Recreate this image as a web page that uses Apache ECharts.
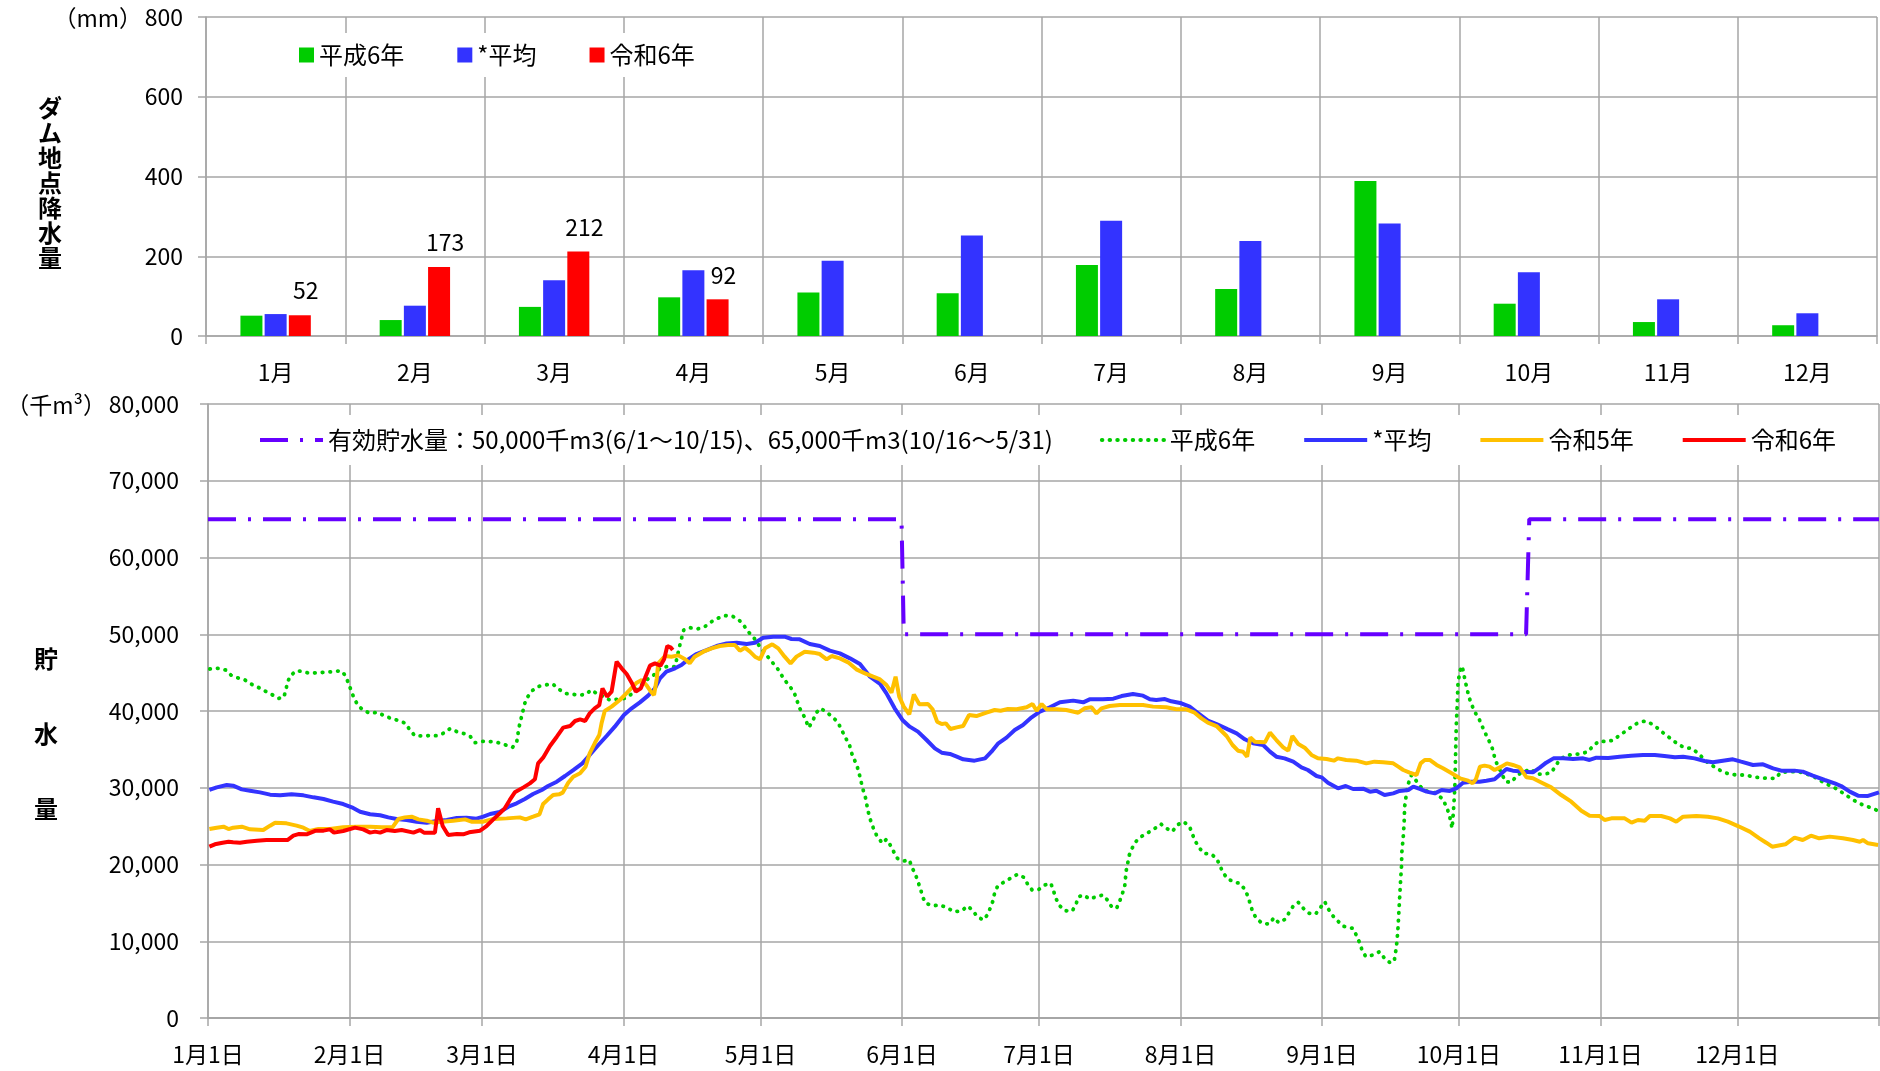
<!DOCTYPE html>
<html>
<head>
<meta charset="utf-8">
<script src="https://cdn.jsdelivr.net/npm/echarts@6/dist/echarts.min.js"></script>
<style>
  html, body { margin: 0; padding: 0; background: #fff; }
  #chart { width: 1880px; height: 1071px; }
</style>
</head>
<body>
<div id="chart"></div>
<script>
// ---- 上段：ダム地点降水量 (mm) ----
const months = ['1月','2月','3月','4月','5月','6月','7月','8月','9月','10月','11月','12月'];
const rainH6  = [51, 40, 73, 97, 109, 107, 178, 118, 389, 81, 35, 27];
const rainAvg = [55, 76, 140, 165, 189, 252, 289, 238, 282, 160, 92, 57];
const rainR6  = [52, 173, 212, 92, null, null, null, null, null, null, null, null];

// ---- 下段：貯水量 (千m3) [1月1日からの日数, 値] ----
const tickDates = ['2024-01-01','2024-02-01','2024-03-01','2024-04-01','2024-05-01','2024-06-01',
  '2024-07-01','2024-08-01','2024-09-01','2024-10-01','2024-11-01','2024-12-01','2025-01-01'];

const capacityLine = [[0,65000],[151.9,65000],[152.4,50000],[288.7,50000],[289.4,65000],[366,65000]];

const storageH6 = [[0.4,45470],[2.3,45560],[3.9,45340],[5,44690],[6.4,44340],[8.1,44040],[9.4,43520],[11,43080],[12.5,42600],[13.9,42170],[15.5,41650],[16.6,41780],[17.1,42820],[17.4,43780],[18.2,44690],[19.4,45250],[20.9,45120],[22.3,44910],[24.2,44990],[25.8,45040],[27.4,45120],[29.1,45250],[30,44690],[30.8,43600],[31.3,42740],[32,41650],[32.8,40780],[33.9,40130],[35.5,39690],[37.1,39830],[38.6,39390],[40.1,39040],[41.8,38740],[43.3,38390],[44.2,37520],[45.3,36790],[46.9,36740],[48.6,36790],[50.3,36790],[51.9,37180],[53,37700],[54.5,37310],[56.1,37050],[57.5,36650],[58.5,35870],[60.1,36050],[62,36000],[63.6,35870],[65.2,35570],[66.7,35270],[67.6,35870],[68.1,37830],[68.5,38830],[68.9,39780],[69.3,40870],[69.9,41740],[70.9,42600],[72.2,43170],
  [73.8,43390],[75.5,43520],[76.9,42820],[78.2,42300],[79.8,42170],[81.5,42080],[82.8,42170],[83.9,42740],[85.1,42300],[86.6,41870],[88,41430],[89.6,41520],[91.3,41650],[92.8,42210],[94.6,43170],[96,44040],[97.5,44600],[99,45560],[100.4,45780],[102.3,45780],[102.8,47160],[103.4,48730],[104.2,50550],[105.5,50860],[107.2,50690],[108.8,50990],[110.3,51640],[111.6,52070],[113.2,52420],[114.8,52380],[116.3,51860],[117.4,51120],[118.3,50340],[119.5,49600],[121.1,48160],[122.6,47080],[123.6,46340],[124.7,45560],[125.6,44690],[126.6,43820],[127.6,43080],[128.5,42210],[129.6,40350],[130.6,39260],[131.6,37830],[132.6,38910],[133.3,39830],[134.2,40350],[135.5,39830],[136.9,39170],[138,38480],[138.8,37520],[139.7,36440],[140.5,35570],[141,34480],[141.6,33620],[142.2,32750],[142.7,31660],[143.1,30660],[143.5,29710],[144,28710],[144.6,26880],[145.1,25800],[145.7,24800],[146.4,23840],[147.7,22760],[148.6,23280],[149.3,22670],[150.1,21760],[151,20800],
  [152.4,20460],[153.6,20590],[154.2,19630],[155,18630],[155.5,17760],[156.1,16760],[156.5,15810],[157.2,14940],[158.8,14630],[160.4,14720],[162.1,14290],[163.4,13850],[165,13940],[166.4,14590],[167.4,14070],[168.5,13200],[169.8,12770],[170.7,13420],[171.4,14420],[172,15370],[172.3,16330],[173,17240],[174.5,17760],[176,18280],[177.3,18720],[178.7,18330],[179.5,17460],[180.5,16680],[182,16760],[183.3,17330],[184.6,17550],[185.1,16760],[185.7,15590],[186.6,14590],[187.7,13980],[189.3,13940],[190.1,14810],[190.7,15810],[191.8,16030],[193.1,15500],[194.6,15810],[196,16030],[197,15370],[197.9,14510],[199,14290],[199.7,15240],[200.3,16240],[200.8,17240],[201.1,19150],[201.8,21240],[202.4,22110],[203.2,22970],[204.4,23630],[205.9,24150],[207.4,24710],[208.7,25280],[209.9,24710],[211.2,24280],[212.3,25150],[213.7,25580],[215,24930],[216.1,23190],[217.1,22190],[218.1,21450],[219.7,21370],[220.9,20800],[221.6,19930],[222.3,18940],[223.4,18110],[224.9,17680],[226,17550],
  [227.1,16760],[227.8,15810],[228.8,13850],[229.6,12990],[230.9,12330],[232.4,12250],[233.5,13070],[234.5,12420],[235.9,12860],[236.7,13640],[237.7,14590],[238.8,15070],[239.9,14290],[241.2,13640],[242.6,13550],[243.7,14420],[244.6,15160],[245.3,14290],[246.2,13420],[247.4,12680],[248.5,11990],[249.7,11810],[250.8,11680],[251.5,10810],[252.3,9730],[252.8,8770],[253.6,7990],[255.2,8210],[256.6,8640],[257.6,7860],[258.8,7250],[259.8,7340],[260.3,9290],[260.6,11250],[260.8,13420],[261,15590],[261.2,17760],[261.4,19720],[261.5,21670],[261.8,23630],[262,25580],[262.1,27530],[262.5,29270],[262.8,30360],[263.6,31660],[264.5,31010],[265.6,30140],[267.2,29490],[268.7,29360],[270.3,28620],[271.2,27620],[271.9,26450],[272.5,24710],[272.7,26230],[272.9,27970],[273.1,30140],[273.2,32750],[273.3,35350],[273.4,37960],[273.6,40570],[273.8,43820],[274.3,45340],[274.7,45860],[275.4,43820],[276.2,41780],[277.3,40040],[278.4,38960],[279.6,37310],[280.5,36220],[281.3,35130],[282,33530],[282.9,32400],[284.2,30790],[285.5,30710],[286.6,31530],[288,32100],[289.9,32400],[291,31750],[292.8,31790],
  [294.2,31970],[295.1,32750],[296,33620],[297.4,34180],[299,34350],[300.6,34400],[302.3,34700],[303.4,35480],[304.7,36090],[306.3,36000],[307.9,36220],[309.2,36870],[310.7,37440],[312.1,38090],[313.4,38520],[314.9,38700],[316.7,38170],[317.8,37610],[319.3,36870],[320.6,36310],[322,35660],[323.4,35220],[325,35130],[326.4,34480],[327.5,33830],[328.7,33180],[330.2,32620],[331.7,32100],[333.3,31750],[335,31660],[336.7,31660],[338.3,31440],[339.9,31310],[341.7,31230],[343.4,31230],[344.4,31970],[346,32100],[348,32100],[349.3,31970],[350.8,31660],[352.4,31230],[353.9,30660],[355.5,30230],[356.9,29790],[358.2,29270],[359.6,28710],[361,28190],[362.5,27750],[364.2,27400],[365.8,27010]];

const storageAvg = [[0.3,29710],[1.9,30050],[4.1,30360],[5.5,30270],[7.4,29790],[9.2,29620],[11.4,29400],[13.6,29100],[15.8,29010],[18.3,29140],[20.9,29010],[23.1,28750],[25.3,28530],[27.4,28190],[29.6,27880],[31.5,27450],[33.3,26880],[35.5,26540],[37.7,26410],[39.5,26140],[41.3,25930],[43.5,25800],[45.7,25580],[47.9,25450],[50.1,25670],[52.3,25800],[54.5,26060],[56.6,26100],[58.8,25970],[60.3,26230],[61.8,26580],[63.9,26840],[65.8,27530],[67.6,27970],[69.4,28530],[71.2,29180],[73.1,29710],
  [74.5,30230],[76.4,30790],[78.2,31530],[80,32310],[82,33180],[83.6,34270],[85.5,35570],[87.3,36740],[89.1,37960],[91.1,39480],[92.8,40350],[94.6,41130],[96.4,42000],[97.9,42950],[99,44260],[100.4,45120],[102.3,45560],[103.7,45990],[105.2,46730],[107,47420],[109.2,47940],[111.4,48470],[113.6,48810],[115.8,48900],[118,48730],[119.8,48900],[121.6,49550],[123.8,49680],[126.3,49680],[127.8,49380],[129.6,49340],[131.8,48730],[134,48470],[136.2,47860],[138.4,47510],[140.6,46860],[142.8,46120],[145,44470],[147.2,43530],
  [148.6,42300],[150.4,40350],[152.1,38830],[153.7,37960],[155.5,37310],[157.4,36220],[159.2,35130],[160.7,34570],[162.5,34400],[164,34050],[165.4,33700],[167.9,33530],[170.2,33830],[171.6,34700],[173.1,35790],[174.9,36530],[176.7,37520],[178.5,38170],[180.4,39170],[182.2,39910],[184.4,40480],[186.6,41130],[189.5,41350],[191.7,41130],[193.1,41520],[196,41520],[198.3,41610],[200.1,41950],[202.6,42210],[204.8,42000],[206.3,41520],[207.7,41430],[209.6,41560],[211,41260],[213.2,41000],[215,40570],[216.9,39690],[219,38740],[220.9,38300],
  [223.4,37610],[225.3,37090],[227.1,36310],[228.9,35790],[231.1,35570],[232.6,34700],[234,34050],[235.8,33830],[237.7,33400],[239.5,32660],[240.9,32310],[242.8,31530],[243.9,31360],[245.3,30660],[247.5,29920],[249.2,30230],[250.8,29840],[253,29880],[254.5,29490],[255.9,29620],[257.7,29050],[259.6,29270],[261,29580],[262.9,29710],[264,30140],[265.4,29840],[266.9,29490],[268.7,29270],[270.2,29710],[272,29580],[273.4,29920],[274.9,30660],[276.7,30790],[278.5,30790],[280,30920],[281.8,31100],[282.9,31660],[284.4,32440],[285.8,32230],[288,32100],[290.2,32010],
  [291.7,32620],[293.1,33270],[294.7,33830],[296.8,33830],[299,33740],[301.2,33830],[302.6,33620],[304.1,33920],[306.7,33880],[309.2,34050],[311.7,34180],[314.3,34270],[316.9,34270],[319,34140],[321.3,33960],[323.1,34050],[325.6,33830],[327.8,33490],[329.6,33310],[331.8,33530],[334,33700],[335.8,33400],[338.4,32970],[340.6,33050],[342.8,32530],[344.6,32230],[347.5,32230],[349.3,32100],[351.5,31570],[354.1,31010],[356.3,30570],[357.7,30230],[359.6,29490],[361.4,28970],[363.6,28930],[366,29400]];

const storageR5 = [[0.3,24620],[1.9,24800],[3.4,24930],[4.5,24620],[5.5,24800],[7.4,24930],[9.2,24580],[12.1,24490],[13.6,25060],[14.7,25450],[17.2,25360],[19.4,25060],[20.9,24800],[22.3,24360],[24.2,24620],[26.7,24620],[29.6,24840],[32.6,24930],[35.5,24930],[38,24840],[40.4,24840],[41.7,25930],[43.1,26140],[44.6,26230],[46.1,25880],[47.9,25710],[49.3,25450],[51.2,25580],[53.7,25710],[56.3,25880],[57.7,25580],[60.3,25580],[62.5,25930],[65.4,26010],[68.3,26140],[69.6,25880],[71.2,26230],[72.6,26540],[73.4,27880],[74.5,28490],[75.6,29050],[76.9,29140],
  [77.7,29360],[78.9,30660],[80,31440],[81.5,31880],[82.7,32750],[83.6,34480],[84.7,35790],[85.7,36870],[86.2,38390],[86.9,40000],[88.4,40570],[90.2,41430],[91.8,42390],[93.9,43690],[95,44040],[96,43390],[97,42520],[97.7,42080],[98.3,44260],[98.6,46210],[100.1,47160],[101.5,47080],[103,47250],[104.5,46730],[105.5,46210],[106.6,47080],[108.5,47730],[110.3,48160],[112.1,48470],[113.9,48600],[115.4,48600],[116.5,47860],[117.6,48250],[118.7,47730],[119.8,47080],[120.9,46730],[122,48160],[123.6,48690],[124.9,48160],[126.3,47080],[127.6,46210],[128.9,47080],[130.7,47730],[132.6,47600],[134,47420],[135.5,46730],[136.6,47160],[138.4,46860],[140.2,46340],[142,45430],[143.9,44910],[145.7,44470],[147.2,44120],[148.6,43390],[149.7,42390],[150.6,44470],
  [151.4,41870],[152.4,40570],[153.6,39560],[154.6,42170],[155.8,40870],[157.7,40910],[158.7,40220],[159.7,38610],[160.7,38300],[161.6,38390],[162.6,37650],[164,37870],[165.4,38040],[166.7,39480],[168.3,39340],[170.5,39780],[172.3,40130],[173.6,40040],[175.2,40260],[177.1,40220],[179.3,40480],[180.6,40910],[181.5,40040],[182.6,40910],[183.7,40220],[185.9,40220],[188,40130],[190.6,39780],[192,40350],[193.5,40480],[194.6,39690],[195.7,40350],[197.5,40650],[199.7,40780],[202.3,40780],[204.8,40780],[207,40570],[209.9,40480],[212.1,40220],[214.3,40220],[216.1,39780],[217.6,39040],[219,38480],[220.9,38040],
  [223.1,36740],[224.4,35570],[225.6,34830],[226.7,34700],[227.6,34050],[228.3,36570],[229.3,36000],[231.5,35920],[232.6,37180],[234,36220],[235.5,35270],[236.6,34830],[237.5,36740],[238.8,35700],[240.2,35220],[241.7,34270],[243.1,33830],[245,33740],[246.6,33530],[247.5,33830],[249.3,33620],[251.5,33530],[253.7,33180],[255.5,33400],[257.4,33310],[259.6,33180],[260.7,32750],[261.8,32310],[263.2,31970],[264.7,31660],[265.6,33180],[266.5,33620],[267.6,33620],[269.1,32970],[270.5,32530],[272.4,31880],[274.2,31230],[276,30920],[277,30570],[277.7,31100],[278.6,32750],[279.6,32880],[280.7,32750],[281.8,32310],[283.3,32750],[284.5,33180],[285.8,32970],[287.3,32660],[288.8,31360],[290.2,31230],
  [291.7,30790],[294.2,30050],[296.4,29050],[298.6,28190],[300.8,27010],[302.6,26360],[304.8,26320],[305.9,25800],[307.4,26010],[310.3,26010],[311.8,25450],[313.2,25800],[314.7,25710],[315.8,26320],[318.3,26320],[320.2,26010],[321.6,25580],[323.1,26230],[326,26320],[328.5,26230],[330.7,26010],[332.9,25580],[335.1,25010],[337.7,24280],[339.8,23410],[341.3,22840],[342.6,22320],[345.5,22630],[347.5,23500],[349.3,23190],[351.1,23760],[352.9,23410],[355.2,23630],[358.1,23410],[360.3,23190],[361.8,22970],[362.5,23190],[363.6,22760],[365.8,22540]];

const storageR6 = [[0.3,22320],[1.5,22630],[3.2,22840],[4.5,22970],[5.5,22890],[7,22840],[8.5,22970],[10.7,23100],[12.8,23190],[15,23190],[17.4,23190],[18.7,23760],[19.8,23970],[21.6,23930],[23.6,24410],[25.3,24410],[26.7,24580],[27.6,24150],[29.6,24360],[32.2,24800],[34,24580],[35.5,24150],[36.6,24280],[37.7,24150],[39.1,24490],[40.9,24360],[42.4,24490],[45,24150],[46.4,24490],[47.3,24150],[49.7,24150],[50.4,27320],[51.4,25010],[52.6,23840],[54.5,23970],[55.9,23930],[57.2,24190],[59.6,24410],[61,25010],[62.5,25880],[63.9,26670],[65,27320],[66.1,28410],[67.2,29400],[69.1,30050],[70.5,30570],[71.6,31100],[72.3,33180],[73.4,33920],
  [74.9,35440],[76.4,36650],[77.8,37830],[79.3,38040],[80.4,38700],[81.5,38910],[82.6,38700],[83.6,39690],[84.7,40350],[85.7,40780],[86.4,42950],[87.4,41870],[88.4,42520],[89.5,46430],[90.6,45560],[91.7,44820],[92.8,43690],[93.7,42520],[94.8,42950],[95.7,44260],[96.8,45910],[97.9,46210],[99.1,45910],[99.9,46730],[100.6,48470],[101.4,48250],[101.8,47940]];

const FONT = "'Noto Sans CJK JP', 'Noto Sans', sans-serif";
const GRID_COLOR = '#a6a6a6';
const DAY = 86400000;
const parseDate = s => { const a = s.split('-').map(Number); return Date.UTC(a[0], a[1] - 1, a[2]); };
const BASE = parseDate(tickDates[0]);
// 1月1日からの日数に変換した目盛り位置
const tickDays = tickDates.map(s => Math.round((parseDate(s) - BASE) / DAY));
const dayLabel = v => { const d = new Date(BASE + Math.round(v) * DAY); return (d.getUTCMonth() + 1) + '月' + d.getUTCDate() + '日'; };

const capName = '有効貯水量：50,000千m3(6/1～10/15)、65,000千m3(10/16～5/31)';

// 折れ線（凡例のマーカーは出さない）
function storageLine(name, data, color, lineStyle) {
  return {
    name: name, type: 'line', xAxisIndex: 1, yAxisIndex: 1, symbol: 'none',
    data: data,
    itemStyle: { color: color, opacity: 0 },
    lineStyle: Object.assign({ color: color, width: 4 }, lineStyle || {})
  };
}

const chart = echarts.init(document.getElementById('chart'));
chart.setOption({
  animation: false,
  textStyle: { fontFamily: FONT, color: '#000' },
  grid: [
    { left: 206, top: 17, width: 1671, height: 319 },
    { left: 208, top: 404, width: 1671, height: 614 }
  ],
  legend: [
    {
      data: ['平成6年', '*平均', '令和6年'],
      left: 285, top: 33, padding: [10, 14],
      backgroundColor: '#fff',
      icon: 'rect', itemWidth: 15, itemHeight: 15, itemGap: 53,
      textStyle: { fontSize: 24, color: '#000', fontFamily: FONT }
    },
    {
      data: [capName, '平成6年 ', '*平均 ', '令和5年', '令和6年 '],
      left: 240, top: 415, padding: [13, 18],
      backgroundColor: '#fff',
      itemWidth: 63, itemHeight: 14, itemGap: 47,
      itemStyle: { opacity: 0 },
      lineStyle: { width: 4 },
      formatter: n => n.trim(),
      textStyle: { fontSize: 24, color: '#000', fontFamily: FONT }
    }
  ],
  xAxis: [
    {
      type: 'category', gridIndex: 0, data: months,
      axisLine: { show: true, lineStyle: { color: GRID_COLOR, width: 1.5 } },
      axisTick: { show: true, length: 8, interval: 0, lineStyle: { color: GRID_COLOR, width: 1.5 } },
      axisLabel: { fontSize: 23, color: '#000', margin: 25, interval: 0 },
      splitLine: { show: true, interval: 0, lineStyle: { color: GRID_COLOR, width: 1.5 } }
    },
    {
      type: 'value', gridIndex: 1, min: 0, max: 366,
      axisLine: { show: true, onZero: false, lineStyle: { color: GRID_COLOR, width: 2 } },
      axisTick: { show: true, length: 8, customValues: tickDays, lineStyle: { color: GRID_COLOR, width: 1.5 } },
      axisLabel: {
        customValues: tickDays.slice(0, 12), fontSize: 23, color: '#000', margin: 25,
        formatter: dayLabel
      },
      splitLine: { show: true, lineStyle: { color: GRID_COLOR, width: 1.5 } }
    }
  ],
  yAxis: [
    {
      type: 'value', gridIndex: 0, min: 0, max: 800, interval: 200,
      axisLine: { show: true, lineStyle: { color: GRID_COLOR, width: 1.5 } },
      axisTick: { show: true, length: 8, lineStyle: { color: GRID_COLOR, width: 1.5 } },
      axisLabel: { fontSize: 23, color: '#000', margin: 23 },
      splitLine: { show: true, lineStyle: { color: GRID_COLOR, width: 1.5 } }
    },
    {
      type: 'value', gridIndex: 1, min: 0, max: 80000, interval: 10000,
      axisLine: { show: true, lineStyle: { color: GRID_COLOR, width: 1.5 } },
      axisTick: { show: true, length: 8, lineStyle: { color: GRID_COLOR, width: 1.5 } },
      axisLabel: { fontSize: 23, color: '#000', margin: 29, formatter: v => v.toLocaleString('en-US') },
      splitLine: { show: true, lineStyle: { color: GRID_COLOR, width: 1.5 } }
    }
  ],
  series: [
    { name: '平成6年', type: 'bar', xAxisIndex: 0, yAxisIndex: 0, data: rainH6,
      barWidth: 22, barGap: '10%', itemStyle: { color: '#00cc00' } },
    { name: '*平均', type: 'bar', xAxisIndex: 0, yAxisIndex: 0, data: rainAvg,
      barWidth: 22, barGap: '10%', itemStyle: { color: '#3333ff' } },
    { name: '令和6年', type: 'bar', xAxisIndex: 0, yAxisIndex: 0, data: rainR6,
      barWidth: 22, barGap: '10%', itemStyle: { color: '#ff0000' },
      label: { show: true, position: 'top', distance: 13, offset: [6, 0], fontSize: 23, color: '#000', fontFamily: FONT } },

    storageLine(capName, capacityLine, '#6600ff', { type: [28, 12, 3, 12], cap: 'butt' }),
    storageLine('平成6年 ', storageH6, '#00cc00', { width: 3.8, type: [0.5, 7.2], cap: 'round' }),
    storageLine('*平均 ', storageAvg, '#3333ff'),
    storageLine('令和5年', storageR5, '#ffc000'),
    storageLine('令和6年 ', storageR6, '#ff0000')
  ],
  graphic: [
    { type: 'text', x: 142, y: 18,
      style: { text: '（mm）', fontSize: 23, fontFamily: FONT, fill: '#000', align: 'right', verticalAlign: 'middle' } },
    { type: 'text', x: 50, y: 95,
      style: { text: 'ダ\nム\n地\n点\n降\n水\n量', fontSize: 24, fontWeight: 'bold', lineHeight: 25,
               fontFamily: FONT, fill: '#000', align: 'center', verticalAlign: 'top' } },
    { type: 'text', x: 106, y: 405,
      style: { text: '（千m³）', fontSize: 23, fontFamily: FONT, fill: '#000', align: 'right', verticalAlign: 'middle' } },
    { type: 'text', x: 46, y: 621,
      style: { text: '貯\n水\n量', fontSize: 24, fontWeight: 'bold', lineHeight: 75,
               fontFamily: FONT, fill: '#000', align: 'center', verticalAlign: 'top' } }
  ]
});
</script>
</body>
</html>
